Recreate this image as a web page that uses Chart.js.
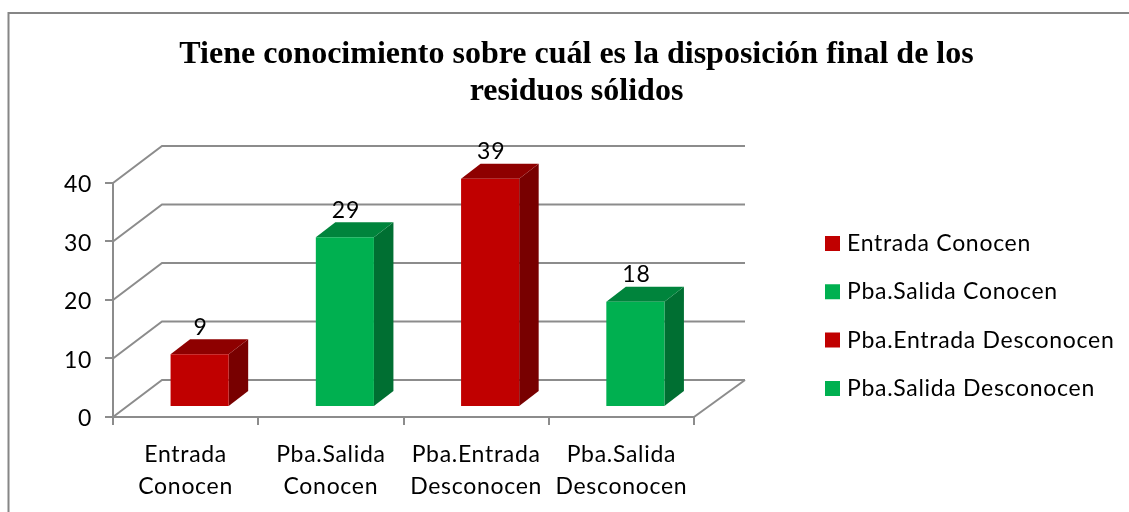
<!DOCTYPE html>
<html>
<head>
<meta charset="utf-8">
<style>html,body{margin:0;padding:0;background:#fff}canvas{display:block}</style>
<script src="https://cdn.jsdelivr.net/npm/chart.js@4"></script>
</head>
<body>
<div style="width:1129px;height:512px"><canvas id="c" width="1129" height="512"></canvas></div>
<script>
const categories = [["Entrada","Conocen"],["Pba.Salida","Conocen"],["Pba.Entrada","Desconocen"],["Pba.Salida","Desconocen"]];
const legendNames = ["Entrada Conocen","Pba.Salida Conocen","Pba.Entrada Desconocen","Pba.Salida Desconocen"];
const values = [9,29,39,18];
const titleLines = ["Tiene conocimiento sobre cuál es la disposición final de los","residuos sólidos"];
const frontColors = ["#C00000","#00B050","#C00000","#00B050"];
const topColors = ["#8E0000","#00843C","#8E0000","#00843C"];
const sideColors = ["#780000","#006F32","#780000","#006F32"];
const yMax = 40, yStep = 10;
const GRID = "#8C8C8C", FONT = "Lato", TEXT_SIZE = 23, SPACING = "0.7px";
const wallDX = 49, wallDY = -37, barDX = 14, barDY = -10, sideDX = 19.5, sideDY = -15;

const scene3d = {
  id: "scene3d",
  beforeLayout(chart) {
    chart.ctx.letterSpacing = SPACING;
    const l = chart.legend;
    if (l && !l._wrapped) {
      const fit = l.fit;
      l.fit = function () { fit.call(this); this.width = 435; };
      l._wrapped = true;
    }
    const t = chart.titleBlock;
    if (t && !t._wrapped) {
      const draw = t.draw;
      t.draw = function () {
        const c = chart.ctx;
        c.letterSpacing = "0px";
        draw.call(this);
        c.letterSpacing = SPACING;
      };
      t._wrapped = true;
    }
  },
  afterLayout(chart) {
    const l = chart.legend, pad = l.options.labels.padding;
    const h = l.height;
    l.left = 829.5 - pad;
    l.right = 1129;
    l.top = 232 - pad;
    l.bottom = l.top + h;
    chart.titleBlock.left += 12;
    chart.titleBlock.right += 12;
  },
  beforeDraw(chart) {
    const c = chart.ctx;
    c.letterSpacing = SPACING;
    c.save();
    c.strokeStyle = "#868686";
    c.lineWidth = 2;
    c.beginPath();
    c.moveTo(8.5, 512); c.lineTo(8.5, 13); c.lineTo(1129, 13);
    c.stroke();
    c.restore();
  },
  beforeDatasetsDraw(chart) {
    const c = chart.ctx, y = chart.scales.y, a = chart.chartArea;
    c.save();
    c.strokeStyle = GRID;
    c.lineWidth = 2;
    y.ticks.forEach(t => {
      const p = y.getPixelForValue(t.value);
      c.beginPath();
      c.moveTo(a.left, p);
      c.lineTo(a.left + wallDX, p + wallDY);
      c.lineTo(a.right + wallDX + 2, p + wallDY);
      c.stroke();
    });
    const b = y.getPixelForValue(0);
    c.beginPath();
    c.moveTo(a.right, b);
    c.lineTo(a.right + wallDX + 2, b + wallDY);
    c.stroke();
    const meta = chart.getDatasetMeta(0);
    meta.data.forEach((el, i) => {
      const p = el.getProps(["x", "y", "base", "width"], true);
      const L = p.x - p.width / 2 + barDX, R = p.x + p.width / 2 + barDX;
      const T = p.y + barDY, B = p.base + barDY;
      c.fillStyle = sideColors[i];
      c.beginPath();
      c.moveTo(R, T); c.lineTo(R + sideDX, T + sideDY); c.lineTo(R + sideDX, B + sideDY); c.lineTo(R, B);
      c.closePath(); c.fill();
      c.fillStyle = topColors[i];
      c.beginPath();
      c.moveTo(L, T); c.lineTo(L + sideDX, T + sideDY); c.lineTo(R + sideDX, T + sideDY); c.lineTo(R, T);
      c.closePath(); c.fill();
    });
    c.restore();
    c.save();
    c.translate(barDX, barDY);
  },
  afterDatasetsDraw(chart) {
    const c = chart.ctx;
    c.restore();
    const meta = chart.getDatasetMeta(0);
    c.save();
    c.fillStyle = "#000";
    c.font = TEXT_SIZE + "px " + FONT;
    c.textAlign = "center";
    c.textBaseline = "middle";
    meta.data.forEach((el, i) => {
      const p = el.getProps(["x", "y"], true);
      c.fillText(String(values[i]), p.x + barDX + 1, p.y + barDY - 27);
    });
    c.restore();
  }
};

new Chart(document.getElementById("c"), {
  type: "bar",
  data: {
    labels: categories,
    datasets: [{
      label: "Valores",
      data: values,
      backgroundColor: frontColors,
      borderWidth: 0,
      categoryPercentage: 1,
      barPercentage: 0.4,
      clip: false
    }]
  },
  plugins: [scene3d],
  options: {
    responsive: false,
    animation: false,
    layout: { padding: 0 },
    plugins: {
      tooltip: { enabled: false },
      title: {
        display: true,
        text: titleLines,
        color: "#000",
        font: { family: "Liberation Serif", size: 32, weight: "bold", lineHeight: 1.156 },
        padding: { top: 36, bottom: 73 }
      },
      legend: {
        display: true,
        position: "right",
        align: "start",
        labels: {
          boxWidth: 6, boxHeight: 6, padding: 25.3,
          color: "#000",
          font: { family: FONT, size: TEXT_SIZE },
          generateLabels: () => legendNames.map((n, i) => ({
            text: n, fillStyle: frontColors[i], strokeStyle: frontColors[i], lineWidth: 9, hidden: false, index: i
          }))
        }
      }
    },
    scales: {
      x: {
        offset: true,
        afterFit(s) { s.height = 95; },
        grid: { drawOnChartArea: false, drawTicks: true, tickLength: 8, color: GRID, lineWidth: 2, offset: true },
        border: { color: GRID, width: 2 },
        ticks: {
          autoSkip: false, maxRotation: 0, minRotation: 0, padding: 14, color: "#000",
          font: { family: FONT, size: TEXT_SIZE, lineHeight: 1.39 }
        }
      },
      y: {
        min: 0, max: yMax,
        afterFit(s) { s.width = 113; },
        grid: { drawOnChartArea: false, drawTicks: true, tickLength: 8, color: GRID, lineWidth: 2 },
        border: { color: GRID, width: 2 },
        ticks: { stepSize: yStep, padding: 13, labelOffset: 2, color: "#000", font: { family: FONT, size: TEXT_SIZE } }
      }
    }
  }
});
</script>
</body>
</html>
